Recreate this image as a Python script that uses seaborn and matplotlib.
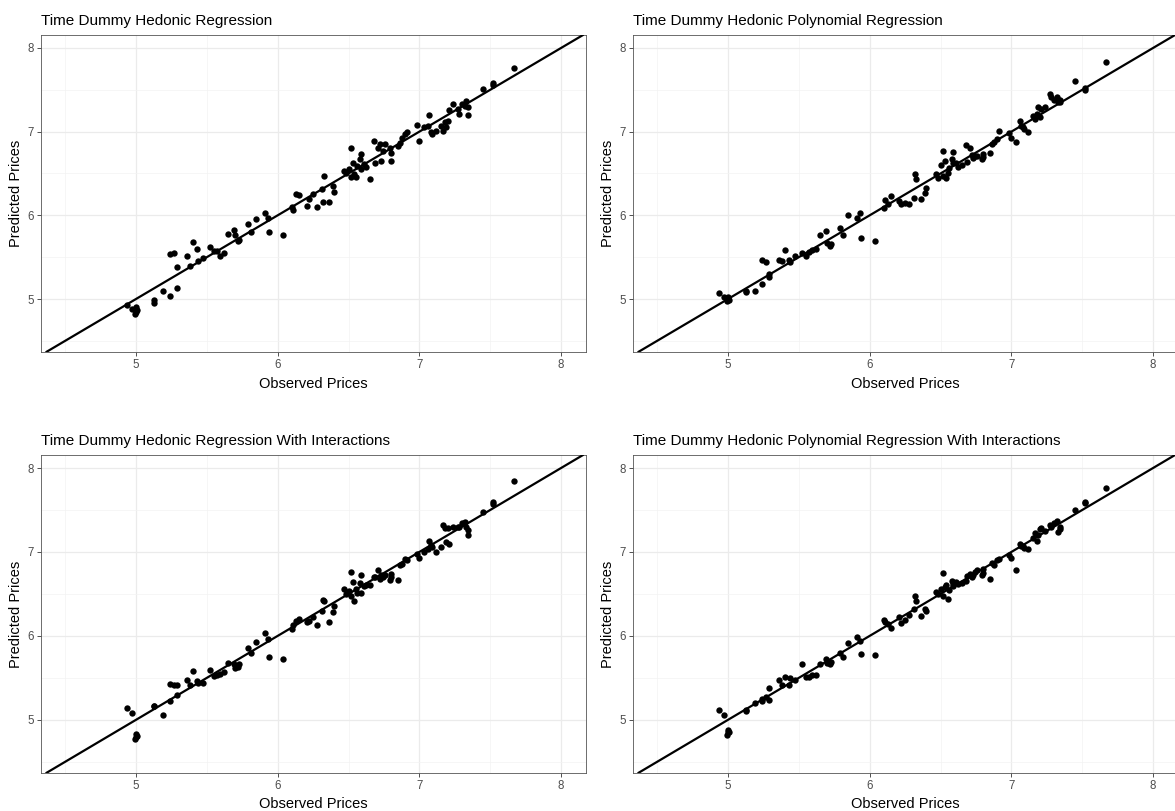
import numpy as np
import pandas as pd
import matplotlib
matplotlib.use("Agg")
import matplotlib.pyplot as plt
import seaborn as sns

# Observed log prices (shared by all four models)
observed = [
    4.94, 4.97, 4.99, 5.00, 5.00, 5.01, 5.13, 5.13, 5.19, 5.24,
    5.24, 5.27, 5.29, 5.29, 5.36, 5.38, 5.40, 5.43, 5.44, 5.47,
    5.52, 5.55, 5.57, 5.59, 5.62, 5.65, 5.69, 5.70, 5.72, 5.73,
    5.79, 5.81, 5.85, 5.91, 5.93, 5.94, 6.04, 6.10, 6.11, 6.13,
    6.15, 6.21, 6.22, 6.25, 6.28, 6.31, 6.32, 6.33, 6.36, 6.39,
    6.40, 6.47, 6.48, 6.50, 6.52, 6.52, 6.53, 6.54, 6.55, 6.56,
    6.58, 6.59, 6.59, 6.61, 6.62, 6.65, 6.68, 6.69, 6.71, 6.72,
    6.73, 6.74, 6.76, 6.79, 6.80, 6.80, 6.85, 6.86, 6.88, 6.90,
    6.91, 6.98, 7.00, 7.03, 7.06, 7.07, 7.08, 7.09, 7.12, 7.15,
    7.17, 7.18, 7.19, 7.20, 7.21, 7.24, 7.27, 7.28, 7.30, 7.32,
    7.33, 7.34, 7.34, 7.45, 7.52, 7.52, 7.67,
]

pred_linear = [
    4.93, 4.88, 4.82, 4.85, 4.90, 4.87, 4.99, 4.95, 5.10, 5.04,
    5.54, 5.55, 5.13, 5.38, 5.52, 5.40, 5.68, 5.60, 5.45, 5.49,
    5.62, 5.57, 5.57, 5.52, 5.55, 5.78, 5.83, 5.77, 5.69, 5.70,
    5.90, 5.80, 5.96, 6.03, 5.97, 5.80, 5.76, 6.10, 6.06, 6.26,
    6.24, 6.11, 6.19, 6.25, 6.10, 6.31, 6.16, 6.47, 6.16, 6.35,
    6.28, 6.53, 6.50, 6.55, 6.46, 6.80, 6.63, 6.49, 6.46, 6.59,
    6.67, 6.73, 6.55, 6.61, 6.58, 6.44, 6.89, 6.63, 6.81, 6.85,
    6.65, 6.77, 6.85, 6.81, 6.75, 6.65, 6.83, 6.87, 6.92, 6.97,
    7.00, 7.08, 6.89, 7.06, 7.07, 7.20, 6.99, 6.97, 7.01, 7.07,
    7.01, 7.11, 7.05, 7.13, 7.26, 7.33, 7.27, 7.21, 7.33, 7.31,
    7.37, 7.29, 7.20, 7.51, 7.56, 7.58, 7.76,
]

pred_poly = [
    5.07, 5.02, 4.98, 5.00, 5.03, 4.99, 5.10, 5.08, 5.10, 5.18,
    5.47, 5.44, 5.26, 5.30, 5.47, 5.45, 5.58, 5.47, 5.44, 5.52,
    5.55, 5.51, 5.56, 5.58, 5.60, 5.77, 5.81, 5.67, 5.63, 5.66,
    5.85, 5.77, 6.01, 5.97, 6.03, 5.73, 5.69, 6.09, 6.18, 6.13,
    6.23, 6.17, 6.13, 6.15, 6.14, 6.21, 6.49, 6.44, 6.20, 6.27,
    6.33, 6.49, 6.45, 6.60, 6.47, 6.77, 6.65, 6.45, 6.50, 6.57,
    6.67, 6.76, 6.63, 6.63, 6.58, 6.60, 6.84, 6.64, 6.81, 6.72,
    6.68, 6.71, 6.71, 6.67, 6.73, 6.70, 6.75, 6.85, 6.88, 6.91,
    7.01, 6.98, 6.92, 6.88, 7.13, 7.07, 7.05, 7.03, 7.00, 7.19,
    7.15, 7.21, 7.29, 7.17, 7.27, 7.30, 7.45, 7.41, 7.38, 7.41,
    7.35, 7.36, 7.38, 7.60, 7.50, 7.52, 7.83,
]

pred_linear_int = [
    5.14, 5.08, 4.77, 4.80, 4.83, 4.81, 5.16, 5.16, 5.06, 5.23,
    5.43, 5.42, 5.30, 5.41, 5.48, 5.42, 5.58, 5.46, 5.44, 5.44,
    5.59, 5.52, 5.54, 5.55, 5.57, 5.68, 5.66, 5.62, 5.63, 5.66,
    5.86, 5.80, 5.93, 6.03, 5.96, 5.75, 5.72, 6.08, 6.13, 6.18,
    6.20, 6.16, 6.18, 6.22, 6.13, 6.30, 6.43, 6.41, 6.17, 6.28,
    6.36, 6.56, 6.50, 6.54, 6.48, 6.76, 6.64, 6.42, 6.56, 6.51,
    6.63, 6.73, 6.51, 6.59, 6.61, 6.61, 6.70, 6.70, 6.78, 6.68,
    6.72, 6.70, 6.72, 6.67, 6.70, 6.74, 6.67, 6.84, 6.86, 6.92,
    6.90, 6.97, 6.93, 7.00, 7.04, 7.13, 7.08, 7.06, 7.00, 7.06,
    7.32, 7.28, 7.12, 7.29, 7.10, 7.30, 7.30, 7.30, 7.34, 7.36,
    7.30, 7.26, 7.20, 7.48, 7.59, 7.57, 7.85,
]

pred_poly_int = [
    5.12, 5.06, 4.82, 4.86, 4.88, 4.85, 5.11, 5.12, 5.20, 5.25,
    5.22, 5.27, 5.24, 5.38, 5.48, 5.42, 5.51, 5.41, 5.50, 5.48,
    5.67, 5.51, 5.51, 5.54, 5.54, 5.66, 5.72, 5.68, 5.67, 5.69,
    5.80, 5.75, 5.91, 5.99, 5.94, 5.78, 5.77, 6.19, 6.16, 6.14,
    6.10, 6.23, 6.15, 6.19, 6.25, 6.32, 6.47, 6.42, 6.24, 6.32,
    6.30, 6.52, 6.50, 6.56, 6.75, 6.48, 6.58, 6.61, 6.44, 6.55,
    6.66, 6.60, 6.62, 6.64, 6.62, 6.63, 6.66, 6.71, 6.74, 6.70,
    6.72, 6.76, 6.79, 6.72, 6.75, 6.80, 6.68, 6.87, 6.85, 6.90,
    6.92, 6.96, 6.93, 6.78, 7.10, 7.07, 7.07, 7.05, 7.03, 7.17,
    7.22, 7.13, 7.20, 7.27, 7.28, 7.25, 7.32, 7.30, 7.34, 7.37,
    7.24, 7.27, 7.30, 7.50, 7.58, 7.59, 7.76,
]

titles = [
    "Time Dummy Hedonic Regression",
    "Time Dummy Hedonic Polynomial Regression",
    "Time Dummy Hedonic Regression With Interactions",
    "Time Dummy Hedonic Polynomial Regression With Interactions",
]
predictions = [pred_linear, pred_poly, pred_linear_int, pred_poly_int]

major_ticks = [5, 6, 7, 8]
minor_ticks = [4.5, 5.5, 6.5, 7.5]

sns.set_theme(style="white")
plt.rcParams["font.family"] = ["Liberation Sans", "DejaVu Sans"]

W, H = 1175, 811
fig = plt.figure(figsize=(W / 100, H / 100), dpi=100)

# panel boxes in pixels: (left, top, width, height)
boxes = [
    (41, 35, 545, 317),
    (633, 35, 545, 317),
    (41, 455, 545, 318),
    (633, 455, 545, 318),
]

lims = (4.33, 8.176)
ylims = (4.367, 8.155)

for (l, t, w, h), title, pred in zip(boxes, titles, predictions):
    ax = fig.add_axes([l / W, 1 - (t + h) / H, w / W, h / H])
    df = pd.DataFrame({"Observed Prices": observed, "Predicted Prices": pred})
    ax.set_xticks(minor_ticks, minor=True)
    ax.set_yticks(minor_ticks, minor=True)
    ax.grid(which="major", color="#EBEBEB", linewidth=0.9, zorder=0)
    ax.grid(which="minor", color="#F3F3F3", linewidth=0.5, zorder=0)
    ax.set_axisbelow(True)
    sns.scatterplot(data=df, x="Observed Prices", y="Predicted Prices",
                    color="black", s=21, linewidth=0, ax=ax, zorder=3)
    ax.axline((5, 5), slope=1, color="black", linewidth=1.6, zorder=4)
    ax.set_xlim(*lims)
    ax.set_ylim(*ylims)
    ax.set_xticks(major_ticks)
    ax.set_yticks(major_ticks)
    ax.tick_params(which="major", length=3, width=0.6, color="#333333",
                   labelsize=8.3, labelcolor="#4D4D4D", pad=2,
                   bottom=True, left=True)
    ax.tick_params(which="minor", length=0)
    for sp in ax.spines.values():
        sp.set_color("#555555")
        sp.set_linewidth(0.6)
    ax.set_xlabel("Observed Prices", fontsize=10.5, color="black", labelpad=4)
    ax.set_ylabel("Predicted Prices", fontsize=10.5, color="black", labelpad=3)
    ax.set_title(title, loc="left", fontsize=11, color="black", pad=7)

fig.savefig("out.png", dpi=100, facecolor="white")
